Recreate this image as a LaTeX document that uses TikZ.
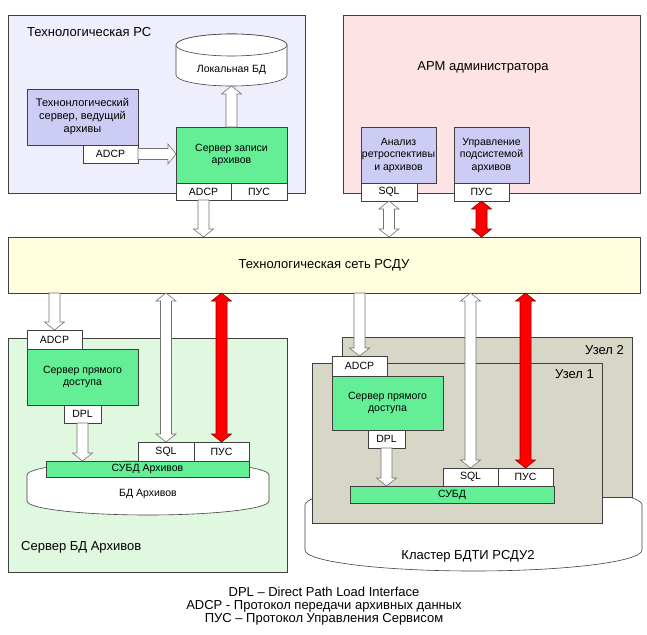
\documentclass[tikz,border=0pt]{standalone}
\usepackage{fontspec}
\setmainfont{Liberation Sans}
\usetikzlibrary{calc}
\definecolor{cTL}{HTML}{EEEEFC}
\definecolor{cLav}{HTML}{CCCCF4}
\definecolor{cGreen}{HTML}{64EE96}
\definecolor{cPink}{HTML}{FDE3E3}
\definecolor{cYellow}{HTML}{FFFFDD}
\definecolor{cLGreen}{HTML}{DFF8DF}
\definecolor{cGray}{HTML}{D8D6C6}
\definecolor{cLine}{HTML}{404040}
\newcommand\flabel{\fontsize{13}{15}\selectfont}
\newcommand\fsmall{\fontsize{10.5}{12.5}\selectfont}
\newcommand\mkbox[7]{\node[#6, minimum width={(#4)-(#2)}, minimum height={(#5)-(#3)}] (#1) at ({((#2)+(#4))/2},{((#3)+(#5))/2}) {#7};}
% vertical arrows: #2 upper point, #3 lower point
\newcommand\ArrDown[3]{\path[#1] let \p1=#2, \p2=#3 in
 ({\x1-5.5pt},{\y1}) -- ({\x1-5.5pt},{\y2+8pt}) -- ({\x1-10pt},{\y2+8pt}) -- ({\x1},{\y2}) -- ({\x1+10pt},{\y2+8pt}) -- ({\x1+5.5pt},{\y2+8pt}) -- ({\x1+5.5pt},{\y1}) -- cycle;}
\newcommand\ArrUp[3]{\path[#1] let \p1=#2, \p2=#3 in
 ({\x1-5.5pt},{\y2}) -- ({\x1-5.5pt},{\y1-8pt}) -- ({\x1-10pt},{\y1-8pt}) -- ({\x1},{\y1}) -- ({\x1+10pt},{\y1-8pt}) -- ({\x1+5.5pt},{\y1-8pt}) -- ({\x1+5.5pt},{\y2}) -- cycle;}
\newcommand\ArrBoth[3]{\path[#1] let \p1=#2, \p2=#3 in
 ({\x1-5.5pt},{\y1-8pt}) -- ({\x1-5.5pt},{\y2+8pt}) -- ({\x1-10pt},{\y2+8pt}) -- ({\x1},{\y2}) -- ({\x1+10pt},{\y2+8pt}) -- ({\x1+5.5pt},{\y2+8pt}) -- ({\x1+5.5pt},{\y1-8pt}) -- ({\x1+10pt},{\y1-8pt}) -- ({\x1},{\y1}) -- ({\x1-10pt},{\y1-8pt}) -- cycle;}
% horizontal arrow: #2 left point, #3 right point
\newcommand\ArrRight[3]{\path[#1] let \p1=#2, \p2=#3 in
 ({\x1},{\y1+5.5pt}) -- ({\x2-8pt},{\y1+5.5pt}) -- ({\x2-8pt},{\y1+10pt}) -- ({\x2},{\y1}) -- ({\x2-8pt},{\y1-10pt}) -- ({\x2-8pt},{\y1-5.5pt}) -- ({\x1},{\y1-5.5pt}) -- cycle;}
\begin{document}
\begin{tikzpicture}[x=1pt,y=-1pt,
  panel/.style={draw=cLine, line width=0.6pt, inner sep=0pt, outer sep=0pt},
  box/.style={draw=cLine, line width=0.6pt, inner sep=0pt, outer sep=0pt, align=center, font=\fsmall},
  port/.style={box, fill=white},
  lbl/.style={inner sep=0pt, font=\flabel},
  dbshape/.style={draw=cLine, line width=0.6pt, fill=white},
  hollow/.style={draw=black!55, fill=white, line width=0.6pt},
  redarr/.style={draw=red!55!black, fill=red, line width=0.6pt}]
\useasboundingbox[fill=white] (0,0) rectangle (647,634);
% panels
\mkbox{pTL}{8}{15}{305}{193}{panel,fill=cTL}{}
\mkbox{pTR}{343}{15}{640}{193}{panel,fill=cPink}{}
\mkbox{net}{8}{237}{640}{293}{panel,fill=cYellow,font=\flabel}{Технологическая сеть РСДУ}
\mkbox{pBL}{8}{338}{287}{572}{panel,fill=cLGreen}{}
\node[lbl, anchor=west] (tTL) at (27,32) {Технологическая РС};
\node[lbl] (tTR) at (483,67) {АРМ администратора};
\node[lbl, anchor=west] (tBL) at (21,547) {Сервер БД Архивов};
% local DB cylinder
\path[dbshape] (176,45) -- (176,75) arc[start angle=180, end angle=360, x radius=55.5pt, y radius=11pt] -- (287,45) arc[start angle=0, end angle=180, x radius=55.5pt, y radius=11pt] -- cycle;
\draw[dbshape] (231.5,45) ellipse [x radius=55.5pt, y radius=11pt];
\node[inner sep=0pt, font=\fsmall] (ldb) at (231.5,70) {Локальная БД};
\coordinate (ldbbot) at (231.5,86);
% DB archive disk
\path[dbshape] (27,475) arc[start angle=180, end angle=0, x radius=121pt, y radius=14pt] -- (269,501) arc[start angle=0, end angle=-180, x radius=121pt, y radius=14pt] -- cycle;
\node[inner sep=0pt, font=\fsmall] (bdA) at (148,494) {БД Архивов};
% cluster disk
\path[dbshape] (305,505) arc[start angle=180, end angle=0, x radius=168.5pt, y radius=21pt] -- (642,550) arc[start angle=0, end angle=-180, x radius=168.5pt, y radius=21pt] -- cycle;
\node[lbl] (tCl) at (468,556) {Кластер БДТИ РСДУ2};
\mkbox{node2}{342}{337}{632}{497}{panel,fill=cGray}{}
\mkbox{node1}{312}{363}{602}{523}{panel,fill=cGray}{}
\node[lbl, anchor=east] (tN2) at (624,350) {Узел 2};
\node[lbl, anchor=east] (tN1) at (594,374) {Узел 1};
% top-left boxes
\mkbox{techsrv}{27}{89}{138}{145}{box,fill=cLav,font=\fontsize{11}{13}\selectfont}{Технонлогический\\сервер, ведущий\\архивы}
\mkbox{adcpA}{83}{145}{138}{163}{port}{ADCP}
\mkbox{srvW}{176}{127}{287}{183}{box,fill=cGreen}{Сервер записи\\архивов}
\mkbox{adcpW}{176}{183}{231}{200}{port}{ADCP}
\mkbox{pusW}{231}{183}{287}{200}{port}{ПУС}
% top-right boxes
\mkbox{anal}{361}{127}{436}{183}{box,fill=cLav}{Анализ\\ретроспективы\\и архивов}
\mkbox{sqlA}{361}{183}{417}{201}{port}{SQL}
\mkbox{mgmt}{454}{127}{529}{183}{box,fill=cLav}{Управление\\подсистемой\\архивов}
\mkbox{pusA}{454}{183}{509}{201}{port}{ПУС}
% bottom-left boxes
\mkbox{adcpB}{27}{330}{82}{349}{port}{ADCP}
\mkbox{srvB}{27}{349}{138}{405}{box,fill=cGreen}{Сервер прямого\\доступа}
\mkbox{dplB}{64}{405}{101}{423}{port}{DPL}
\mkbox{subdB}{46}{461}{249}{477}{box,fill=cGreen}{СУБД Архивов}
\mkbox{sqlB}{138}{442}{194}{461}{port}{SQL}
\mkbox{pusB}{194}{442}{249}{461}{port}{ПУС}
% cluster boxes
\mkbox{adcpC}{332}{356}{387}{376}{port}{ADCP}
\mkbox{srvC}{332}{376}{443}{430}{box,fill=cGreen}{Сервер прямого\\доступа}
\mkbox{dplC}{368}{430}{405}{448}{port}{DPL}
\mkbox{subdC}{350}{486}{554}{503}{box,fill=cGreen}{СУБД}
\mkbox{sqlC}{443}{468}{498}{486}{port}{SQL}
\mkbox{pusC}{498}{468}{553}{486}{port}{ПУС}
% arrows
\ArrRight{hollow}{(adcpA.east)}{(srvW.west |- adcpA.east)}
\ArrUp{hollow}{(ldbbot)}{(srvW.north)}
\ArrDown{hollow}{(adcpW.south)}{(adcpW.south |- net.north)}
\ArrBoth{hollow}{(sqlA.south)}{(sqlA.south |- net.north)}
\ArrBoth{redarr}{(pusA.south)}{(pusA.south |- net.north)}
\ArrDown{hollow}{(adcpB.north |- net.south)}{(adcpB.north)}
\ArrDown{hollow}{(dplB.south)}{(dplB.south |- subdB.north)}
\ArrBoth{hollow}{(sqlB.north |- net.south)}{(sqlB.north)}
\ArrBoth{redarr}{(pusB.north |- net.south)}{(pusB.north)}
\ArrDown{hollow}{(adcpC.north |- net.south)}{(adcpC.north)}
\ArrDown{hollow}{(dplC.south)}{(dplC.south |- subdC.north)}
\ArrBoth{hollow}{(sqlC.north |- net.south)}{(sqlC.north)}
\ArrBoth{redarr}{(pusC.north |- net.south)}{(pusC.north)}
% legend
\node[inner sep=0pt, align=center, font=\fontsize{13}{12.8}\selectfont] (legend) at (324,606) {DPL – Direct Path Load Interface\\ADCP - Протокол передачи архивных данных\\ПУС – Протокол Управления Сервисом};
\end{tikzpicture}
\end{document}
